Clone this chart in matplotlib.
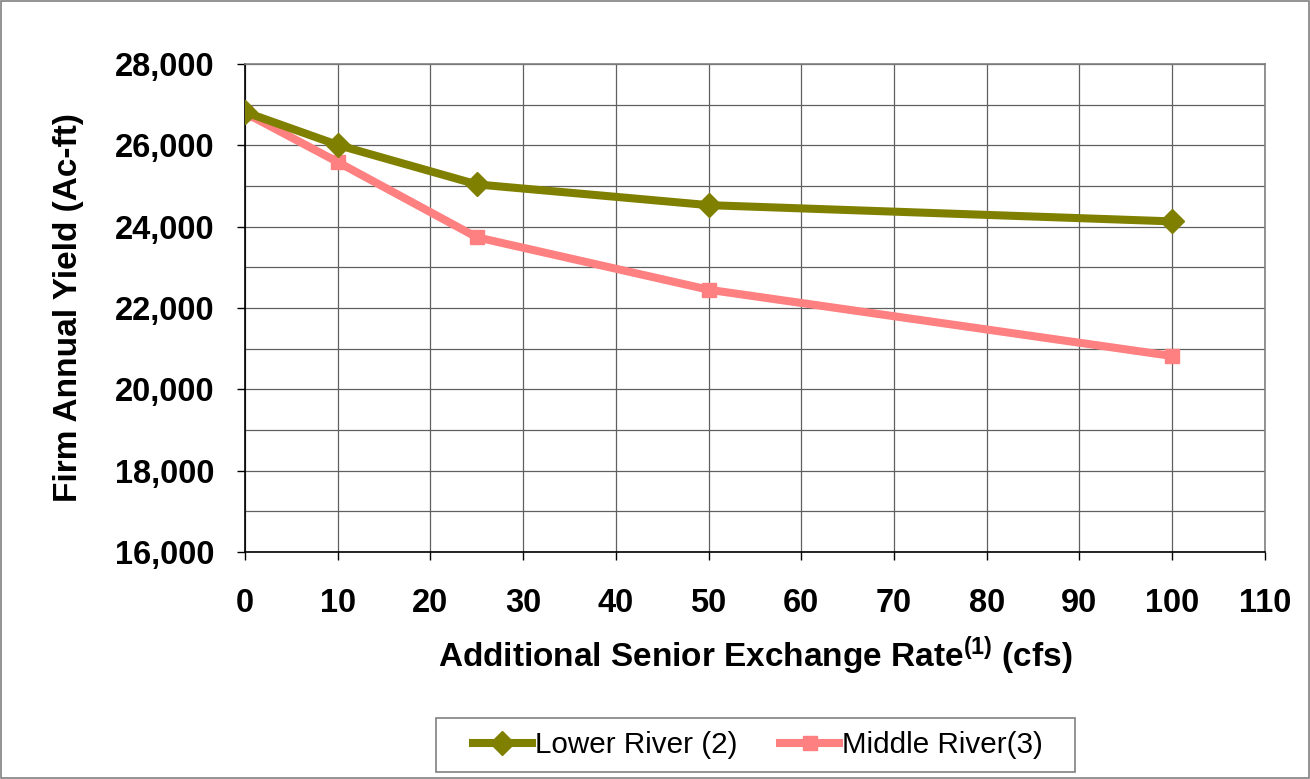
import matplotlib.pyplot as plt
from matplotlib.patches import Rectangle
from matplotlib.ticker import MultipleLocator, FuncFormatter

plt.rcParams['font.family'] = ['Liberation Sans', 'DejaVu Sans']
plt.rcParams['mathtext.fontset'] = 'custom'
plt.rcParams['mathtext.rm'] = 'Liberation Sans:bold'
plt.rcParams['mathtext.it'] = 'Liberation Sans:bold'
plt.rcParams['mathtext.bf'] = 'Liberation Sans:bold'

rate = [0, 10, 25, 50, 100]
lower_river = [26820, 26010, 25040, 24530, 24130]
middle_river = [26800, 25590, 23740, 22450, 20820]

fig = plt.figure(figsize=(13.1, 7.79), dpi=100)
ax = fig.add_axes([0.187, 0.2914, 0.7786, 0.6264])

ax.plot(rate, lower_river, color='#808000', lw=5.8, marker='D', ms=12.5,
        label='Lower River (2)', zorder=4)
ax.plot(rate, middle_river, color='#FF8080', lw=5.8, marker='s', ms=10,
        label='Middle River(3)', zorder=3)

ax.set_xlim(0, 110)
ax.set_ylim(16000, 28000)
ax.xaxis.set_major_locator(MultipleLocator(10))
ax.yaxis.set_major_locator(MultipleLocator(2000))
ax.yaxis.set_minor_locator(MultipleLocator(1000))
ax.yaxis.set_major_formatter(FuncFormatter(lambda v, p: f"{int(v):,}"))

ax.grid(True, which='both', color='#606060', lw=0.9)
ax.set_axisbelow(True)
for s in ['top', 'right']:
    ax.spines[s].set_color('#808080')
    ax.spines[s].set_linewidth(1.2)
for s in ['left', 'bottom']:
    ax.spines[s].set_color('black')
    ax.spines[s].set_linewidth(1.2)

ax.tick_params(axis='both', which='major', direction='out', length=6, width=1,
               labelsize=23.5)
ax.tick_params(axis='y', which='minor', length=0)
ax.tick_params(axis='x', pad=20)
ax.tick_params(axis='y', pad=16)
for lbl in ax.get_xticklabels() + ax.get_yticklabels():
    lbl.set_fontweight('bold')

ax.set_ylabel('Firm Annual Yield (Ac-ft)', fontsize=24, fontweight='bold', labelpad=22)
ax.set_xlabel(r'Additional Senior Exchange Rate$^{(1)}$ (cfs)', fontsize=24,
              fontweight='bold', labelpad=11)

leg = fig.legend(loc='center', bbox_to_anchor=(758 / 1310, 1 - 745 / 779), ncol=2,
                 fontsize=21.3, frameon=False, handlelength=2.0,
                 columnspacing=1.45, handletextpad=0.1)

# legend box
fig.patches.append(Rectangle((436 / 1310, 1 - 772 / 779), 639 / 1310, 54 / 779,
                             transform=fig.transFigure, fill=False,
                             edgecolor='#808080', lw=1.2))
# outer chart border
fig.patches.append(Rectangle((0.001, 0.001), 0.998, 0.998, transform=fig.transFigure,
                             fill=False, edgecolor='#808080', lw=1.2))

fig.savefig('out.png', dpi=100)
